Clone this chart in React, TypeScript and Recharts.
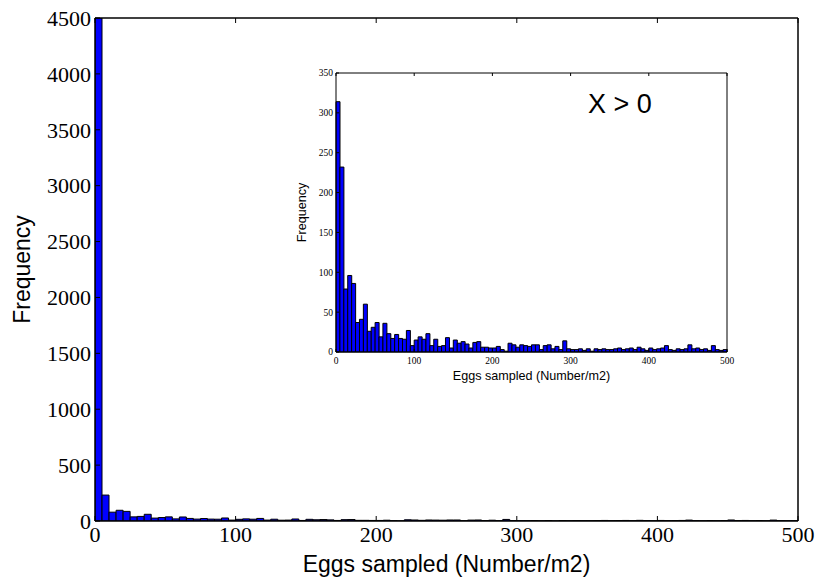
import React from "react";
import { BarChart, Bar, XAxis, YAxis, Label } from "recharts";

// Histogram bins: width 5 (Number/m2), 0..500
const binWidth = 5;
const binCount = 100;

// Inset: X > 0 frequencies per bin
const insetCounts = [
  314, 232, 79, 96, 86, 37, 41, 60, 26, 31,
  37, 19, 36, 23, 17, 22, 17, 16, 27, 8,
  15, 19, 16, 23, 8, 16, 7, 8, 18, 5,
  15, 11, 13, 10, 5, 12, 13, 6, 6, 5,
  5, 7, 3, 1, 11, 9, 6, 9, 8, 7,
  9, 9, 3, 8, 9, 4, 7, 3, 14, 4,
  3, 3, 4, 2, 4, 1, 4, 3, 4, 3,
  3, 4, 5, 3, 4, 5, 3, 6, 4, 2,
  5, 3, 4, 5, 8, 3, 2, 4, 3, 4,
  9, 4, 5, 3, 4, 2, 8, 3, 2, 3,
];

// Main: all samples (first bin includes zeros)
const mainCounts = [
  4500, 232, 79, 96, 86, 37, 41, 60, 26, 31,
  37, 19, 36, 23, 17, 22, 17, 16, 27, 8,
  15, 19, 16, 23, 8, 16, 7, 8, 18, 5,
  15, 11, 13, 10, 5, 12, 13, 6, 6, 5,
  5, 7, 3, 1, 11, 9, 6, 9, 8, 7,
  9, 9, 3, 8, 9, 4, 7, 3, 14, 4,
  3, 3, 4, 2, 4, 1, 4, 3, 4, 3,
  3, 4, 5, 3, 4, 5, 3, 6, 4, 2,
  5, 3, 4, 5, 8, 3, 2, 4, 3, 4,
  9, 4, 5, 3, 4, 2, 8, 3, 2, 3,
];

const xTicks = [0, 100, 200, 300, 400, 500];
const mainYTicks = [0, 500, 1000, 1500, 2000, 2500, 3000, 3500, 4000, 4500];
const insetYTicks = [0, 50, 100, 150, 200, 250, 300, 350];

const xLabel = "Eggs sampled (Number/m2)";
const yLabel = "Frequency";
const insetNote = "X > 0";

const binCenters = Array.from({ length: binCount }, (_, i) => i * binWidth + binWidth / 2);
const mainData = binCenters.map((x, i) => ({ x, count: mainCounts[i] }));
const insetData = binCenters.map((x, i) => ({ x, count: insetCounts[i] }));

const serif = "'Liberation Serif', 'DejaVu Serif', serif";
const sans = "'Liberation Sans', Arial, sans-serif";

const NoTick = () => <g />;

export default function App() {
  return (
    <div style={{ position: "absolute", left: 0, top: 0, width: 819, height: 579, background: "#fff" }}>
      <div style={{ position: "absolute", left: 0, top: 0 }}>
        <BarChart
          width={819}
          height={579}
          data={mainData}
          margin={{ top: 17, right: 20, bottom: 0, left: 0 }}
          barCategoryGap={0}
          barGap={0}
        >
          <XAxis
            dataKey="x"
            type="number"
            domain={[0, 500]}
            ticks={xTicks}
            height={58}
            tickSize={-5}
            tickMargin={10}
            stroke="#000"
            axisLine={{ stroke: "#000", strokeWidth: 1.5 }}
            tickLine={{ stroke: "#000" }}
            tick={{ fill: "#000", fontSize: 22, fontFamily: serif }}
            allowDataOverflow
          >
            <Label
              value={xLabel}
              position="insideBottom"
              offset={7}
              style={{ fill: "#000", fontSize: 23, fontFamily: sans }}
            />
          </XAxis>
          <XAxis
            xAxisId="top"
            orientation="top"
            dataKey="x"
            type="number"
            domain={[0, 500]}
            ticks={xTicks}
            height={1}
            tickSize={-5}
            tick={NoTick}
            axisLine={{ stroke: "#000", strokeWidth: 1.5 }}
            tickLine={{ stroke: "#000" }}
          />
          <YAxis
            type="number"
            domain={[0, 4500]}
            ticks={mainYTicks}
            width={95}
            tickSize={-5}
            tickMargin={9}
            axisLine={{ stroke: "#000", strokeWidth: 1.5 }}
            tickLine={{ stroke: "#000" }}
            tick={{ fill: "#000", fontSize: 22, fontFamily: serif }}
            allowDataOverflow
          >
            <Label
              value={yLabel}
              angle={-90}
              position="insideLeft"
              offset={22}
              style={{ fill: "#000", fontSize: 23, fontFamily: sans, textAnchor: "middle" }}
            />
          </YAxis>
          <YAxis
            yAxisId="right"
            orientation="right"
            type="number"
            domain={[0, 4500]}
            ticks={mainYTicks}
            width={1}
            tickSize={-5}
            tick={NoTick}
            axisLine={{ stroke: "#000", strokeWidth: 1.5 }}
            tickLine={{ stroke: "#000" }}
          />
          <Bar dataKey="count" fill="#0000ff" stroke="#000" strokeWidth={1} isAnimationActive={false} />
        </BarChart>
      </div>

      <div style={{ position: "absolute", left: 290, top: 65 }}>
        <BarChart
          width={447}
          height={330}
          data={insetData}
          margin={{ top: 7, right: 9, bottom: 0, left: 0 }}
          barCategoryGap={0}
          barGap={0}
        >
          <XAxis
            dataKey="x"
            type="number"
            domain={[0, 500]}
            ticks={xTicks}
            height={43}
            tickSize={-3}
            tickMargin={8}
            axisLine={{ stroke: "#000", strokeWidth: 1 }}
            tickLine={{ stroke: "#000" }}
            tick={{ fill: "#000", fontSize: 9.5, fontFamily: serif }}
          >
            <Label
              value={xLabel}
              position="insideBottom"
              offset={15}
              style={{ fill: "#000", fontSize: 12.6, fontFamily: sans }}
            />
          </XAxis>
          <XAxis
            xAxisId="top"
            orientation="top"
            dataKey="x"
            type="number"
            domain={[0, 500]}
            ticks={xTicks}
            height={1}
            tickSize={-3}
            tick={NoTick}
            axisLine={{ stroke: "#000", strokeWidth: 1 }}
            tickLine={{ stroke: "#000" }}
          />
          <YAxis
            type="number"
            domain={[0, 350]}
            ticks={insetYTicks}
            width={46}
            tickSize={-3}
            tickMargin={6}
            axisLine={{ stroke: "#000", strokeWidth: 1 }}
            tickLine={{ stroke: "#000" }}
            tick={{ fill: "#000", fontSize: 9.5, fontFamily: serif }}
          >
            <Label
              value={yLabel}
              angle={-90}
              position="insideLeft"
              offset={12}
              style={{ fill: "#000", fontSize: 12.6, fontFamily: sans, textAnchor: "middle" }}
            />
          </YAxis>
          <YAxis
            yAxisId="right"
            orientation="right"
            type="number"
            domain={[0, 350]}
            ticks={insetYTicks}
            width={1}
            tickSize={-3}
            tick={NoTick}
            axisLine={{ stroke: "#000", strokeWidth: 1 }}
            tickLine={{ stroke: "#000" }}
          />
          <Bar dataKey="count" fill="#0000ff" stroke="#000" strokeWidth={1} isAnimationActive={false} />
        </BarChart>
        <div
          style={{
            position: "absolute",
            left: 298,
            top: 23,
            fontFamily: sans,
            fontSize: 27,
            color: "#000",
            whiteSpace: "nowrap",
            lineHeight: "32px",
          }}
        >
          {insetNote}
        </div>
      </div>
    </div>
  );
}
